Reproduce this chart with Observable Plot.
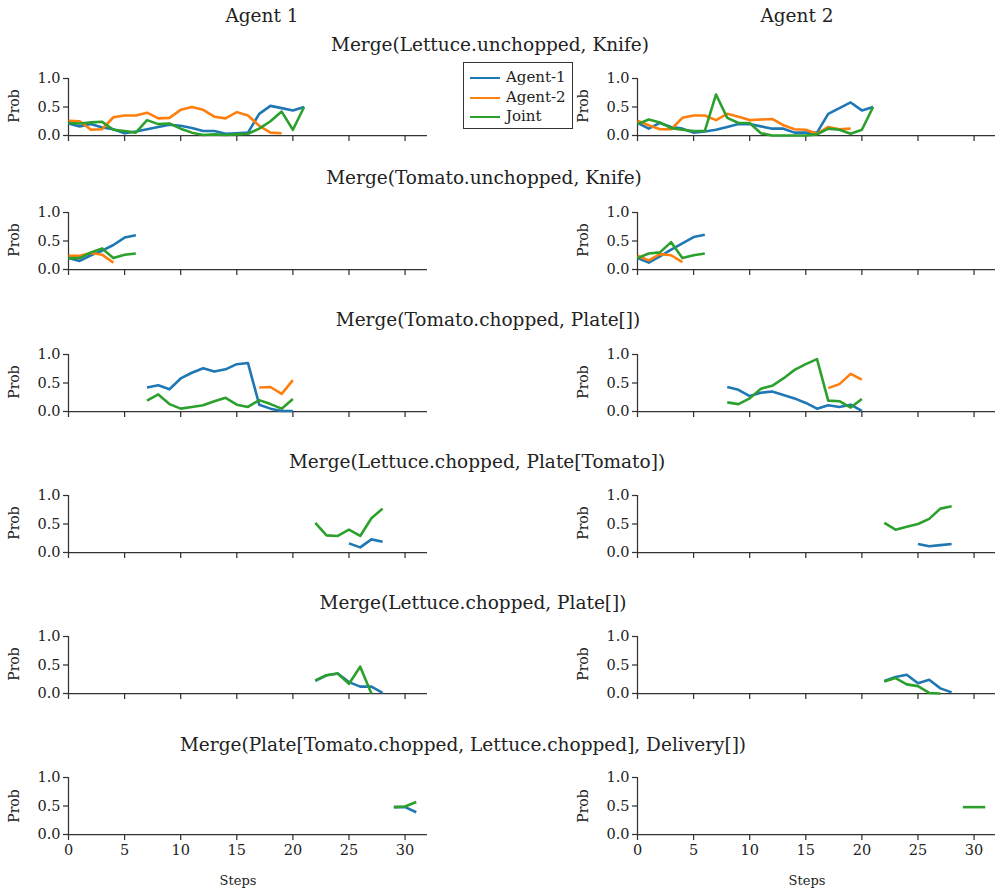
<!DOCTYPE html>
<html>
<head>
<meta charset="utf-8">
<script src="https://cdn.jsdelivr.net/npm/d3@7"></script>
<script src="https://cdn.jsdelivr.net/npm/@observablehq/plot@0.6"></script>
<style>
  body { margin: 0; background: #fff; }
  #fig { position: relative; width: 995px; height: 892px; overflow: hidden; font-family: "DejaVu Serif", serif; color: #222; }
  #fig svg text { font-family: "DejaVu Serif", serif !important; }
  .lbl { position: absolute; white-space: nowrap; transform: translate(-50%, -50%); }
  .title { font-size: 18.5px; }
  .legend { position: absolute; border: 1px solid #333; background: #fff; font-size: 15px; }
  .legend .row { position: absolute; left: 0; height: 18px; white-space: nowrap; }
  .legend .sw { position: absolute; left: 6px; width: 30px; height: 0; border-top: 2.5px solid; top: 8px; }
  .legend .tx { position: absolute; left: 42px; top: -1px; }
</style>
</head>
<body>
<div id="fig"></div>
<script>
// ---------- data ----------
const seriesNames = ["Agent-1", "Agent-2", "Joint"];
const seriesColors = ["#1f77b4", "#ff7f0e", "#2ca02c"];
const columnTitles = ["Agent 1", "Agent 2"];
const rowTitles = [
  "Merge(Lettuce.unchopped, Knife)",
  "Merge(Tomato.unchopped, Knife)",
  "Merge(Tomato.chopped, Plate[])",
  "Merge(Lettuce.chopped, Plate[Tomato])",
  "Merge(Lettuce.chopped, Plate[])",
  "Merge(Plate[Tomato.chopped, Lettuce.chopped], Delivery[])"
];
const xTicks = [0, 5, 10, 15, 20, 25, 30];
const yTicks = [0, 0.5, 1.0];

// each series: [first step, values...]
// Row 1: Merge(Lettuce.unchopped, Knife)
const r1a1Agent1 = [0, 0.21,0.16,0.20,0.14,0.11,0.04,0.07,0.11,0.15,0.19,0.17,0.13,0.08,0.08,0.03,0.04,0.05,0.38,0.52,0.48,0.44,0.50];
const r1a1Agent2 = [0, 0.26,0.25,0.10,0.11,0.32,0.35,0.35,0.40,0.30,0.31,0.45,0.50,0.45,0.33,0.30,0.41,0.35,0.17,0.05,0.04];
const r1a1Joint  = [0, 0.22,0.21,0.23,0.24,0.10,0.08,0.05,0.27,0.20,0.21,0.12,0.05,0.01,0.02,0.01,0.02,0.03,0.12,0.25,0.42,0.10,0.50];
const r1a2Agent1 = [0, 0.22,0.12,0.22,0.15,0.12,0.05,0.07,0.10,0.15,0.20,0.20,0.16,0.12,0.12,0.05,0.05,0.05,0.38,0.48,0.58,0.44,0.50];
const r1a2Agent2 = [0, 0.26,0.18,0.11,0.11,0.31,0.35,0.35,0.27,0.38,0.33,0.27,0.28,0.29,0.18,0.11,0.10,0.03,0.15,0.11,0.12];
const r1a2Joint  = [0, 0.20,0.28,0.23,0.13,0.10,0.08,0.08,0.72,0.31,0.22,0.22,0.04,0.00,0.00,0.00,0.00,0.02,0.12,0.10,0.03,0.10,0.50];
// Row 2: Merge(Tomato.unchopped, Knife)
const r2a1Agent1 = [0, 0.20,0.15,0.25,0.33,0.43,0.56,0.60];
const r2a1Agent2 = [0, 0.24,0.24,0.29,0.26,0.12];
const r2a1Joint  = [0, 0.20,0.20,0.30,0.37,0.20,0.26,0.28];
const r2a2Agent1 = [0, 0.20,0.12,0.23,0.35,0.46,0.57,0.61];
const r2a2Agent2 = [0, 0.24,0.16,0.27,0.25,0.13];
const r2a2Joint  = [0, 0.20,0.28,0.30,0.48,0.20,0.25,0.28];
// Row 3: Merge(Tomato.chopped, Plate[])
const r3a1Agent1 = [7, 0.42,0.46,0.39,0.58,0.68,0.76,0.70,0.74,0.83,0.85,0.12,0.05,0.01,0.01];
const r3a1Agent2 = [17, 0.42,0.43,0.31,0.55];
const r3a1Joint  = [7, 0.19,0.30,0.13,0.05,0.08,0.11,0.18,0.24,0.12,0.08,0.20,0.13,0.05,0.22];
const r3a2Agent1 = [8, 0.43,0.38,0.27,0.33,0.35,0.29,0.23,0.15,0.05,0.11,0.08,0.12,0.01];
const r3a2Agent2 = [17, 0.41,0.48,0.66,0.56];
const r3a2Joint  = [8, 0.16,0.13,0.23,0.40,0.45,0.58,0.73,0.83,0.92,0.19,0.18,0.07,0.22];
// Row 4: Merge(Lettuce.chopped, Plate[Tomato])
const r4a1Agent1 = [25, 0.16,0.09,0.23,0.19];
const r4a1Agent2 = [0];
const r4a1Joint  = [22, 0.52,0.30,0.29,0.40,0.29,0.60,0.77];
const r4a2Agent1 = [25, 0.15,0.11,0.13,0.15];
const r4a2Agent2 = [0];
const r4a2Joint  = [22, 0.52,0.40,0.45,0.50,0.59,0.77,0.81];
// Row 5: Merge(Lettuce.chopped, Plate[])
const r5a1Agent1 = [22, 0.22,0.32,0.35,0.20,0.12,0.12,0.01];
const r5a1Agent2 = [0];
const r5a1Joint  = [22, 0.23,0.32,0.35,0.17,0.47,0.00];
const r5a2Agent1 = [22, 0.22,0.29,0.33,0.18,0.24,0.09,0.02];
const r5a2Agent2 = [0];
const r5a2Joint  = [22, 0.21,0.27,0.16,0.13,0.01,0.00];
// Row 6: Merge(Plate[Tomato.chopped, Lettuce.chopped], Delivery[])
const r6a1Agent1 = [29, 0.48,0.48,0.39];
const r6a1Agent2 = [0];
const r6a1Joint  = [29, 0.48,0.49,0.57];
const r6a2Agent1 = [0];
const r6a2Agent2 = [0];
const r6a2Joint  = [29, 0.48,0.48,0.48];

const panels = [
  [[r1a1Agent1, r1a1Agent2, r1a1Joint], [r1a2Agent1, r1a2Agent2, r1a2Joint]],
  [[r2a1Agent1, r2a1Agent2, r2a1Joint], [r2a2Agent1, r2a2Agent2, r2a2Joint]],
  [[r3a1Agent1, r3a1Agent2, r3a1Joint], [r3a2Agent1, r3a2Agent2, r3a2Joint]],
  [[r4a1Agent1, r4a1Agent2, r4a1Joint], [r4a2Agent1, r4a2Agent2, r4a2Joint]],
  [[r5a1Agent1, r5a1Agent2, r5a1Joint], [r5a2Agent1, r5a2Agent2, r5a2Joint]],
  [[r6a1Agent1, r6a1Agent2, r6a1Joint], [r6a2Agent1, r6a2Agent2, r6a2Joint]]
];

// ---------- layout ----------
const fig = document.getElementById("fig");
const rowZeroY = [134.7, 268.5, 410.5, 551.5, 692.5, 834];
const rowTitleY = [44, 177, 319, 461, 602, 744];
const rowTitleX = [490, 484, 488, 477, 473, 463];
const colLeft = [0, 569];
const plotH = 57;
const mTop = 10, mLeft = 68, mRight = 10;
const serif = "DejaVu Serif";

function toRows(series) {
  const out = [];
  series.forEach((s, k) => {
    const start = s[0];
    s.slice(1).forEach((v, i) => out.push({step: start + i, prob: v, series: seriesNames[k]}));
  });
  return out;
}

panels.forEach((row, r) => {
  const bottom = r === panels.length - 1;
  const mBottom = bottom ? 30 : 12;
  row.forEach((series, c) => {
    const data = toRows(series);
    const svg = Plot.plot({
      width: mLeft + 359 + mRight,
      height: mTop + plotH + mBottom,
      marginTop: mTop, marginLeft: mLeft, marginRight: mRight, marginBottom: mBottom,
      x: {domain: [0, 32]},
      y: {domain: [0, 1]},
      color: {domain: seriesNames, range: seriesColors},
      style: {fontFamily: serif, fontSize: "14.5px", color: "#222", background: "transparent", overflow: "visible"},
      marks: [
        Plot.axisY({ticks: yTicks, tickFormat: d => d.toFixed(1), tickSize: 5, tickPadding: 3, label: null, stroke: "#333", strokeWidth: 1.25, fontFamily: serif, fontSize: 14.5, fill: "#222"}),
        Plot.axisX({ticks: xTicks, tickFormat: bottom ? d => String(d) : () => "", tickSize: 6, tickPadding: 4, label: null, stroke: "#333", strokeWidth: 1.25, fontFamily: serif, fontSize: 14.5, fill: "#222"}),
        Plot.ruleX([0], {y1: 0, y2: 1, stroke: "#333", strokeWidth: 1.25}),
        Plot.ruleY([0], {x1: 0, x2: 32, stroke: "#333", strokeWidth: 1.25}),
        Plot.line(data, {x: "step", y: "prob", z: "series", stroke: "series", strokeWidth: 2.6, strokeLinejoin: "round", strokeLinecap: "butt"})
      ]
    });
    svg.style.position = "absolute";
    svg.style.left = colLeft[c] + "px";
    svg.style.top = (rowZeroY[r] - plotH - mTop) + "px";
    svg.querySelectorAll("text, g").forEach(el => { el.style.fontFamily = serif; });
    fig.appendChild(svg);

    const yl = document.createElement("div");
    yl.className = "lbl";
    yl.textContent = "Prob";
    yl.style.fontSize = "14px";
    yl.style.left = (colLeft[c] + 14) + "px";
    yl.style.top = (rowZeroY[r] - plotH / 2) + "px";
    yl.style.transform = "translate(-50%, -50%) rotate(-90deg)";
    fig.appendChild(yl);

    if (bottom) {
      const xl = document.createElement("div");
      xl.className = "lbl";
      xl.textContent = "Steps";
      xl.style.fontSize = "13px";
      xl.style.left = (colLeft[c] + mLeft + 170) + "px";
      xl.style.top = "880px";
      fig.appendChild(xl);
    }
  });
  const t = document.createElement("div");
  t.className = "lbl title";
  t.textContent = rowTitles[r];
  t.style.left = rowTitleX[r] + "px";
  t.style.top = rowTitleY[r] + "px";
  fig.appendChild(t);
});

[262, 797].forEach((x, i) => {
  const h = document.createElement("div");
  h.className = "lbl title";
  h.textContent = columnTitles[i];
  h.style.left = x + "px";
  h.style.top = "15px";
  fig.appendChild(h);
});

// legend
const lg = document.createElement("div");
lg.className = "legend";
lg.style.left = "463px"; lg.style.top = "62px"; lg.style.width = "108px"; lg.style.height = "65px";
seriesNames.forEach((n, i) => {
  const rr = document.createElement("div");
  rr.className = "row";
  rr.style.top = (6 + i * 19.5) + "px";
  rr.innerHTML = `<div class="sw" style="border-color:${seriesColors[i]}"></div><div class="tx">${n}</div>`;
  lg.appendChild(rr);
});
fig.appendChild(lg);
</script>
</body>
</html>
